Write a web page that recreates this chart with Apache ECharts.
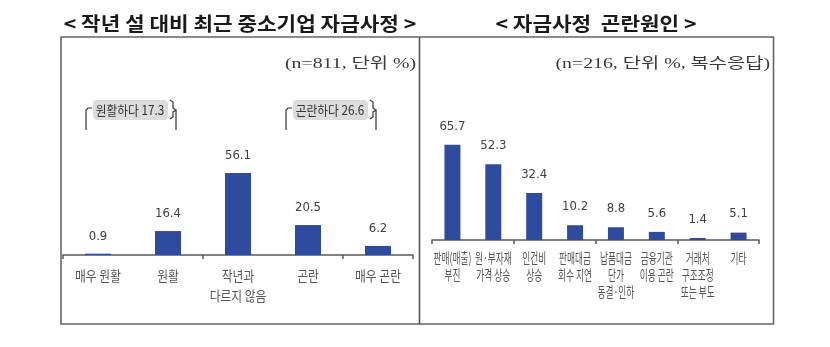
<!DOCTYPE html>
<html>
<head>
<meta charset="utf-8">
<script src="https://cdn.jsdelivr.net/npm/echarts@6/dist/echarts.min.js"></script>
<style>
  html, body { margin: 0; padding: 0; background: #ffffff; }
  #chart { width: 830px; height: 347px; }
</style>
</head>
<body>
<div id="chart"></div>
<script>
// 자금사정 (작년 설 대비)
const statusCategories = ['매우 원활', '원활', '작년과\n다르지 않음', '곤란', '매우 곤란'];
const statusValues = [0.9, 16.4, 56.1, 20.5, 6.2];

// 자금사정 곤란원인 (복수응답)
const causeCategories = ['판매(매출)\n부진', '원·부자재\n가격 상승', '인건비\n상승', '판매대금\n회수 지연',
  '납품대금\n단가\n동결·인하', '금융기관\n이용 곤란', '거래처\n구조조정\n또는 부도', '기타'];
const causeValues = [65.7, 52.3, 32.4, 10.2, 8.8, 5.6, 1.4, 5.1];

// 묶음 합계
const easyGroup = { name: '원활하다', value: 17.3 };
const hardGroup = { name: '곤란하다', value: 26.6 };

const titles = ['< 작년 설 대비 최근 중소기업 자금사정 >', '< 자금사정  곤란원인 >'];
const notes = ['(n=811, 단위 %)', '(n=216, 단위 %, 복수응답)'];

const KR = '"Noto Sans CJK KR", "Noto Sans", sans-serif';
const SERIF = '"Liberation Serif", "DejaVu Serif", "Noto Sans CJK KR", serif';
const NUM = '"Liberation Sans Narrow", "DejaVu Sans Condensed", "Noto Sans CJK KR", sans-serif';
const BAR = '#2f4b9f';
const AXIS = '#595959';

const chart = echarts.init(document.getElementById('chart'), null, { renderer: 'canvas' });

function xAxisCfg(gridIndex, cats) {
  return {
    type: 'category', gridIndex, data: cats,
    axisLine: { lineStyle: { color: AXIS, width: 1.5 } },
    axisTick: { show: true, length: 4, lineStyle: { color: AXIS, width: 1.5 } },
    axisLabel: { show: false },
    splitLine: { show: false }
  };
}
function yAxisCfg(gridIndex) {
  return { type: 'value', gridIndex, min: 0, max: 100, show: false, splitLine: { show: false } };
}
function barSeries(idx, values, width, fontSize, dist) {
  return {
    type: 'bar', xAxisIndex: idx, yAxisIndex: idx, data: values, barWidth: width,
    itemStyle: { color: BAR }, silent: true,
    label: { show: true, position: 'top', distance: dist, color: '#404040',
      fontSize, fontFamily: NUM }
  };
}
// 범주 이름: 좁은 글꼴 폭에 맞게 가로로 눌러서 표시
function categoryLabels(idx, cats, opts) {
  return {
    type: 'custom', xAxisIndex: idx, yAxisIndex: idx, silent: true, clip: false,
    data: cats.map((c, i) => [i, 0]),
    renderItem(params, api) {
      const i = api.value(0);
      const p = api.coord([i, 0]);
      return {
        type: 'text', x: p[0], y: p[1] + opts.dy, scaleX: opts.scaleX,
        style: { text: cats[i], align: 'center', verticalAlign: 'top',
          fontSize: opts.fontSize, lineHeight: opts.lineHeight, fontFamily: KR, fill: '#555555' }
      };
    }
  };
}

const INK = { stroke: '#333333', lineWidth: 1.2, fill: null };
function bracket(x1, x2, y, text) {
  const top = y - 2;
  return [
    { type: 'rect', silent: true, shape: { x: x1 + 7, y: y - 10, width: x2 - x1 - 15, height: 20, r: 4 },
      style: { fill: '#dcdcdc' } },
    { type: 'polyline', silent: true,
      shape: { points: [[x1, y + 20], [x1, top + 2], [x1 + 2, top], [x1 + 6, top]] },
      style: INK },
    { type: 'polyline', silent: true,
      shape: { points: [[x2 - 6, y - 10], [x2 - 3, y - 8], [x2 - 3, y - 2], [x2, y],
        [x2 - 3, y + 2], [x2 - 3, y + 7], [x2 - 6, y + 9]] },
      style: INK },
    { type: 'line', silent: true, shape: { x1: x2, y1: y, x2: x2, y2: y + 20 }, style: INK },
    { type: 'text', x: (x1 + x2) / 2 - 1, y: y, scaleX: 0.9, silent: true,
      style: { text: text, align: 'center', verticalAlign: 'middle', fontSize: 13,
        fontFamily: KR, fill: '#333333' } }
  ];
}

const option = {
  backgroundColor: '#ffffff',
  animation: false,
  grid: [
    { left: 63, top: 109, width: 350, height: 146 },
    { left: 432, top: 95, width: 327, height: 145 }
  ],
  xAxis: [xAxisCfg(0, statusCategories), xAxisCfg(1, causeCategories)],
  yAxis: [yAxisCfg(0), yAxisCfg(1)],
  series: [
    barSeries(0, statusValues, 26, 13, 11),
    barSeries(1, causeValues, 16, 13, 12),
    categoryLabels(0, statusCategories, { dy: 11, fontSize: 14, lineHeight: 20, scaleX: 0.84 }),
    categoryLabels(1, causeCategories, { dy: 9, fontSize: 14, lineHeight: 17, scaleX: 0.62 })
  ],
  graphic: [
    // 테두리와 구분선
    { type: 'rect', silent: true, shape: { x: 61, y: 37, width: 712.5, height: 287 },
      style: { fill: null, stroke: '#666666', lineWidth: 1.6 } },
    { type: 'line', silent: true, shape: { x1: 419.5, y1: 37, x2: 419.5, y2: 324 },
      style: { stroke: '#555555', lineWidth: 1.6 } },
    // 제목
    { type: 'text', x: 240, y: 24, scaleX: 1.12, silent: true,
      style: { text: titles[0], align: 'center', verticalAlign: 'middle', fontSize: 19,
        fontWeight: 'bold', fontFamily: KR, fill: '#1a1a1a' } },
    { type: 'text', x: 596, y: 24, scaleX: 1.12, silent: true,
      style: { text: titles[1], align: 'center', verticalAlign: 'middle', fontSize: 19,
        fontWeight: 'bold', fontFamily: KR, fill: '#1a1a1a' } },
    // 조사 개요
    { type: 'text', x: 416, y: 64, scaleX: 1.32, silent: true,
      style: { text: notes[0], align: 'right', verticalAlign: 'middle', fontSize: 15,
        fontFamily: SERIF, fill: '#3a3a3a' } },
    { type: 'text', x: 770, y: 64, scaleX: 1.32, silent: true,
      style: { text: notes[1], align: 'right', verticalAlign: 'middle', fontSize: 15,
        fontFamily: SERIF, fill: '#3a3a3a' } },
    // 묶음 표시
    ...bracket(86, 176, 110, `${easyGroup.name} ${easyGroup.value}`),
    ...bracket(286, 376, 110, `${hardGroup.name} ${hardGroup.value}`)
  ]
};

chart.setOption(option);
</script>
</body>
</html>
